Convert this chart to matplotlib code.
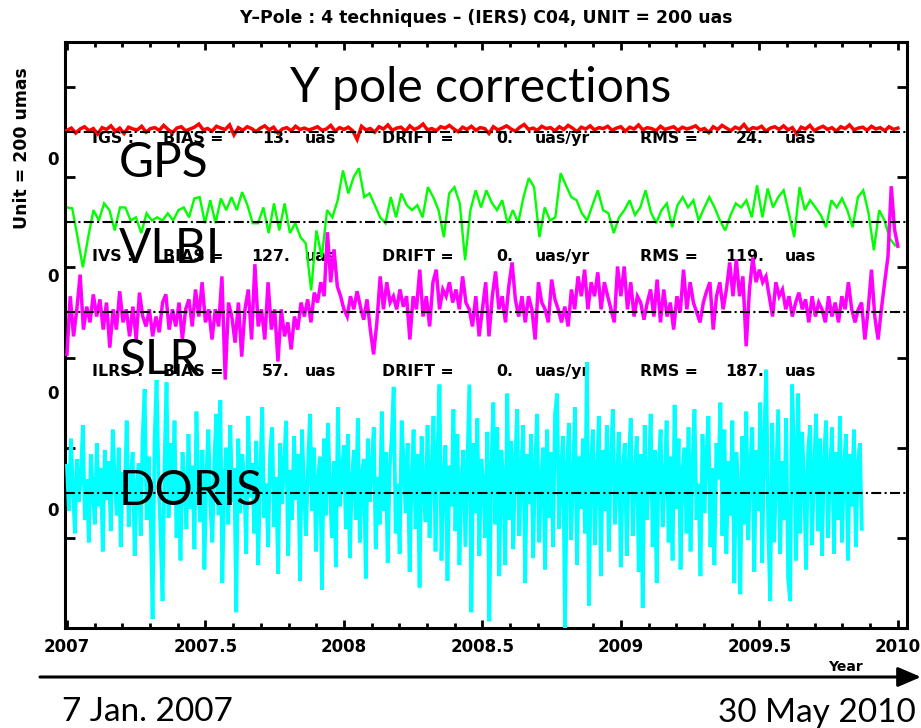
import numpy as np
import matplotlib.pyplot as plt
from matplotlib.ticker import MultipleLocator, FuncFormatter

# Offsets of each technique from its reference line, in micro-arcseconds (uas)
igs_vals = [4, 9, -2, 7, 12, 3, 8, -4, 10, 6, 14, 2, 9, -3, 11, 7, 5, 13, 0, 8,
            10, 4, 15, 6, -1, 9, 12, 3, 7, 11, 18, 5, 8, 2, 13, 9, 6, 16, -6, 10,
            4, 12, 8, 1, 9, 14, 5, 11, -2, 7, 10, 3, 13, 6, 9, 5, 8, 12, 4, 7,
            15, 2, 10, 6, 11, 3, -16, 13, 5, 8, 0, 12, 7, 16, 4, 9, 11, 2, 14, 6,
            10, 18, 5, 8, 3, 12, 9, 15, 7, 1, 11, 6, 13, 4, 10, 8, -3, 12, 5, 9,
            14, 7, 2, 11, 17, 6, 9, 4, 13, 8, 10, 3, 12, 6, 15, 9, 1, 11, 7, 14,
            5, 10, 8, 13, 4, 9, 12, 2, 11, 7, 16, 5, 10, 8, 3, 13, 6, 9, 12, 4,
            11, 7, 10, 14, 5, 8, -1, 12, 6, 15, 9, 3, 11, 7, 17, 4, 10, 8, 13, 2,
            9, 12, 6, 14, 5, 10, -4, 11, 7, 15, 3, 9, 13, 6, 10, 2, 12, 8, 16, 5,
            9, 11, 4, 13, 7, 10, 3, 12, 6, 9]

ivs_vals = [33, 31, -33, -100, -33, 27, 4, 42, 27, -18, 33, 33, 4, 11, -24, 20, 4, 11, 4, 20,
            4, 27, 33, 11, 53, 56, -2, 49, -2, 53, 27, 56, 27, 67, 38, -2, -2, 33, -24, 42,
            -18, 42, -24, -2, -33, -47, -151, -18, -78, 27, 11, 49,
            115, 64, 100, 120, 56, 64, 38, 11, -2, 56, 11, 64, 38, 27, 38, 11, 78, 56, 27, -33,
            64, 78, 42, -84, 27, 71, 33, 71, 44, 27, 49, -2, 27, -2, 56, 98, 78, -33, 33, 4,
            11, 109, 82, 56, 49, 20, 4, 38, 71, 27, 20, -24, 11, 27, 49, 16,
            33, 71, 22, -2, 27, 42, -11, 38, 56, 33, 49, 4, 31, 56, 33, 4, -18, 16, 42, 33,
            49, 11, 82, 11, 75, 33, 56, 71, 20, -33, 78, 27, 49, 33, 16, -11, 49, 33, 53, 27,
            -11, 56, 71, 20, -62, 27, 4, -36, -51]

ilrs_vals = [-93, 36, -53, 7, 84, -38, 13, -22, 40, -9, 29, -38, 22, -78, 7, -38, 47, -22, 7, -53,
             13, -60, 44, -9, -31, 7, -53, -9, -44, 22, 40, -38, 7, -31, 22, -60, 7, 29, -31, 51,
             -9, 67, -22, 7, -60, 7, -31, 80, -149, 22, -9, -67, 22, -98, 7, 51, -60, 107, -31, 7,
             -60, 67, -38, 7, -109, 7, -53, -22, -82, -9, -38, 22, -9, 29, -22, 44, 22, 67, 36, 178,
             67, 140, 58, 36, 7, -9, 36, 7, 47,
             13, -16, 29, -38, -93, -22, 80, 7, 67, 22, 36, 7, 51, 13, 36, -60, 36, 7, 95, -9,
             36, -31, 67, 95, 7, 51, 36, 67, 22, 51, 7, 80, 22, 7, -31, 36, -53, 7, 67, -53,
             36, 91, 7, 36, -22, 58, 111, 29, -9, 36, -22, 36, 7, -60, 67, 22, 7, -22, 73, 29,
             7, -22, 13, -31, 51, 7, 80, 36, 95, 7, 67, 36, 89, 7, 67, 36, 7, -22, 102, 36,
             102, 7, 67, -9, 36,
             22, -16, 22, 51, -9, 73, -22, 51, -9, 22, -38, 36, 0, 95, 7, 67, 22, 0, -22, 22,
             47, 67, -38, 36, 67, 7, 51, 111, 36, 118, 36, 80, -75, 51, 122, 67, 95, 67, 80, 36,
             -9, 67, 36, 51, 7, 36, -9, 22, 44, 7, 29, -22, 36, -9, 22, 7, -22, 36, -9, 22,
             -22, 36, 7, 67, 7, -22, 7, 22, -60, 7, 95, -9, -60, 7, 67, 124, 280, 184, 147]

doris_vals = [60, -40, 120, 10, -90, 75, -20, 40, 150, -60, 30, -110, 85, 5, -70, 110, -30, 55, -130, 95,
              -15, 70, -85, 140, 20, -50, 100, -120, 45, -10, 160, -75, 35, 90, -140, 15, 65, -95, 125, 230,
              -60, 80, -40, -280, 120, 250, 30, -90, -240, 70, 245, -55, 110, -20, 160, -100, 40, -150, 90, 20,
              -80, 130, -35, 60, -125, 180, 10, -65, 95, -170, 45, 140, -30, -110, 75, 175, -50, 205, -200, 25,
              100, -70, 150, -20, 55, -265, 120, -45, 85, 30, -135, 170, -10, 65, -90, 115, -160, 40, 190, -55,
              20, -120, 90, 145, -75, 35, -180, 110, -25, 70, 160, -140, 50, -60, 125, -15, 85, -195, 140, 5,
              -95, 60, 175, -40, 100, -130, 30, 80, -215, 120, -50, 155, 15, -100, 70, -165, 190, -30, 45, 105,
              -80, 130, -145, 25, 95, -60, 165, -110, 40, 75, -190, 120, -20, 60, 145, -125, 35, -70, 180, -40,
              90, -155, 55, 120, 235, -90, 20, -135, 160, 65, -45, 110, -175, 30, 140, -80, 85, -210, 125, 10,
              -65, 150, -100, 45, 170, -130, 80, 240, -150, 35, 105, -195, 60, -30, 185, -85, 130, -160, 25, 95,
              -120, 60, 240, -265, 110, -45, 165, -140, 75, 20, -100, 135, -285, 50, 200, -70, 145, -185, 95, 30,
              -160, 220, -60, 115, -125, 70, 185, -95, 40, 150, -200, 85, -25, 130, -145, 60, 175, -110, 20, 100,
              -170, 140, -55, 90, -120, 175, 220, -80, 45, 125, -300, 65, 155, -105, 30, 190, -160, 80, -35, 120,
              -90, 290, -250, 60, 140, -115, 35, 170, -185, 95, -40, 150, -130, 75, 185, -70, 20, 135, -165, 55,
              110, -140, 70, 165, -95, 40, 125, -175, 85, -255, 150, -60, 30, 175, -120, 95, -200, 60, 140, -75,
              25, 160, -110, 80, -150, 195, -35, 120, -170, 50, 100, -90, 145, -130, 65, 185, -60, 20, -185, 130,
              -45, 85, 170, -120, 55, -160, 110, 30, 200, -95, 140, -135, 70, -50, 160, -200, 90, 15, -225, 125,
              -70, 180, -105, 60, 145, -175, 95, -40, 200, -155, 120, 273, -80, -240, 155, -110, 40, 185, -135, 70,
              -60, 165, -190, -240, 240, 100, -150, 220, -90, 135, 30, -170, 90, 150, -115, 50, 175, -85, 120, -140,
              75, 160, -100, 40, 145, -135, 90, -60, 170, -110, 55, 130, -150, 85, -30, 140, -120, 65, 110, -80]

# time span (decimal year) covered by each series
igs_span = (2007.0, 2010.0)
ivs_span = (2007.0, 2009.99)
ilrs_span = (2007.0, 2010.0)
doris_span = (2007.0, 2009.87)

# reference line of each panel, in plot units (1 unit = 200 uas)
igs_ref, ivs_ref, ilrs_ref, doris_ref = 4.5, 3.5, 2.5, 0.5
unit_uas = 200.0

# statistics printed under each reference line
stat_names = ["IGS", "IVS", "ILRS"]
stat_bias = [13, 127, 57]
stat_drift = [0, 0, 0]
stat_rms = [24, 119, 187]

W, H = 921, 728
def fx(px):
    return px / W
def fy(py):
    return 1 - py / H

fig = plt.figure(figsize=(9.21, 7.28), dpi=100)
ax = fig.add_axes([fx(65), fy(628), fx(907) - fx(65), fy(42) - fy(628)])

bold = dict(family="DejaVu Sans", fontweight="bold")
big = dict(family=["Lato", "DejaVu Sans"])

series = [
    (ivs_vals, ivs_span, ivs_ref, "#00ff00", 1.7, 2),
    (ilrs_vals, ilrs_span, ilrs_ref, "#ff00ff", 2.5, 3),
    (doris_vals, doris_span, doris_ref, "#00ffff", 2.7, 3),
    (igs_vals, igs_span, igs_ref, "#ff0000", 2.5, 4),
]
for vals, span, ref, color, lw, z in series:
    t = np.linspace(span[0], span[1], len(vals))
    y = ref + np.array(vals) / unit_uas
    ax.plot(t, y, color=color, lw=lw, zorder=z, solid_joinstyle="miter")

# dash-dot reference lines
for ref in [igs_ref, ivs_ref, ilrs_ref, doris_ref]:
    ax.axhline(ref, color="black", lw=1.5, ls=(0, (4.8, 1.6, 1.0, 1.6)), zorder=5)

ax.set_xlim(2006.993, 2010.033)
ax.set_ylim(-1.0, 5.5)
ax.xaxis.set_major_locator(MultipleLocator(0.5))
ax.xaxis.set_minor_locator(MultipleLocator(0.1))
ax.xaxis.set_major_formatter(FuncFormatter(lambda v, p: f"{v:g}"))
ax.yaxis.set_major_locator(MultipleLocator(1))
ax.tick_params(axis="both", which="both", direction="in", top=True, right=True, width=2)
ax.tick_params(axis="x", which="major", length=6, pad=7, labelsize=12)
ax.tick_params(axis="x", which="minor", length=3.6)
ax.tick_params(axis="y", which="major", length=7.5, labelleft=False)
for lab in ax.get_xticklabels():
    lab.set_fontweight("bold")
for sp in ax.spines.values():
    sp.set_linewidth(2.2)

# IDL-style statistics lines (under the curves)
row_base = [143, 261, 376]
for name, b, d, r, py in zip(stat_names, stat_bias, stat_drift, stat_rms, row_base):
    pieces = [(92, "left", f"{name} :"), (163, "left", "BIAS ="), (290, "right", f"{b}."),
              (305, "left", "uas"), (382, "left", "DRIFT ="), (513, "right", f"{d}."),
              (535, "left", "uas/yr"), (640, "left", "RMS ="), (764, "right", f"{r}."),
              (785, "left", "uas")]
    for px, ha, s in pieces:
        ax.text(fx(px), fy(py), s, transform=fig.transFigure, ha=ha, va="baseline",
                fontsize=11.3, zorder=1, clip_on=False, **bold)

# "0" labels of the stacked panels
for py in [160, 277, 394, 511]:
    fig.text(fx(53), fy(py), "0", ha="center", va="center", fontsize=12, **bold)

# big overlay labels
ax.text(fx(290), fy(102), "Y pole corrections", transform=fig.transFigure, fontsize=34.5,
        va="baseline", zorder=6, **big)
for s, py in [("GPS", 177), ("VLBI", 263), ("SLR", 374), ("DORIS", 505)]:
    ax.text(fx(119), fy(py), s, transform=fig.transFigure, fontsize=34.5,
            va="baseline", zorder=6, **big)

fig.text(fx(486), fy(18), "Y\u2013Pole : 4 techniques \u2013 (IERS) C04, UNIT = 200 uas",
         ha="center", va="center", fontsize=12.4, **bold)
fig.text(fx(22), fy(148), "Unit = 200 umas", rotation=90, ha="center", va="center",
         fontsize=12.4, **bold)
fig.text(fx(845), fy(667), "Year", ha="center", va="center", fontsize=10, **bold)

# time arrow with the period covered
ax.annotate("", xy=(fx(921), fy(677)), xytext=(fx(40), fy(677)), xycoords="figure fraction",
            textcoords="figure fraction", annotation_clip=False,
            arrowprops=dict(arrowstyle="-|>,head_length=0.7,head_width=0.3", lw=2.2,
                            color="black", mutation_scale=20, shrinkA=0, shrinkB=0))
fig.text(fx(62), fy(721), "7 Jan. 2007", fontsize=24, va="baseline", **big)
fig.text(fx(916), fy(722), "30 May 2010", fontsize=24, va="baseline", ha="right", **big)

fig.savefig("out.png", dpi=100)
